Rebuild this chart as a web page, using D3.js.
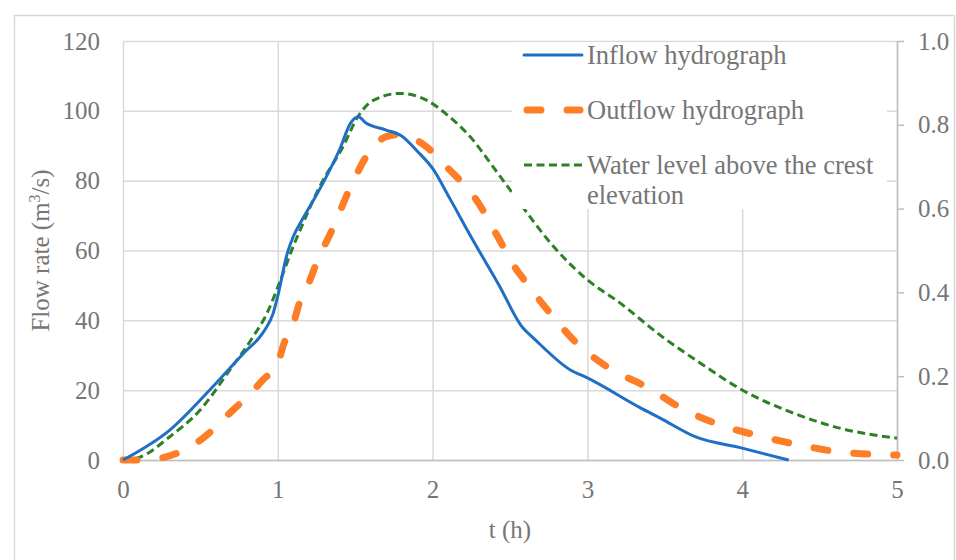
<!DOCTYPE html>
<html>
<head>
<meta charset="utf-8">
<script src="https://cdn.jsdelivr.net/npm/d3@7"></script>
<style>
  body { margin: 0; background: #fff; }
  text { font-family: "Liberation Serif", "Times New Roman", serif; fill: #767676; }
</style>
</head>
<body>
<div class="chart"></div>
<script>
// DATA (t in hours)
const INFLOW_T = [0, 0.3, 0.58, 0.8, 0.88, 0.92, 0.97, 1.0, 1.06, 1.1, 1.16, 1.27, 1.4, 1.47, 1.52, 1.57, 1.7, 1.8, 1.9, 2.0, 2.11, 2.26, 2.43, 2.58, 2.65, 2.89, 3.0, 3.34, 3.47, 3.7, 4.0, 4.3];
const INFLOW_Q = [0, 8.5, 21, 31.5, 35, 37.5, 42, 47, 59, 64, 69, 77.5, 89, 96.5, 98.3, 96.5, 94.5, 92.8, 88.5, 83.5, 75, 63, 50, 38, 35, 25.8, 23.5, 15, 12, 6.6, 3.4, 0];

const OUTFLOW_T = [0, 0.13, 0.27, 0.4, 0.5, 0.71, 0.8, 0.905, 1.0, 1.04, 1.1, 1.14, 1.19, 1.25, 1.36, 1.47, 1.6, 1.7, 1.78, 1.85, 1.96, 2.09, 2.29, 2.42, 2.52, 2.61, 2.76, 2.93, 3.13, 3.4, 3.6, 3.86, 4.11, 4.37, 4.63, 5.0];
const OUTFLOW_Q = [0, 0, 0.8, 3, 5.7, 14.3, 18, 23, 27.7, 33.4, 39, 45, 49.6, 56.4, 66.8, 78.2, 88.8, 92.6, 93.2, 92.6, 89.7, 84, 74, 64, 56, 50.5, 42, 33.5, 26.6, 20.5, 15, 10, 6.9, 4.3, 2.3, 1.4];

const LEVEL_T = [0, 0.11, 0.3, 0.5, 0.69, 0.84, 0.93, 1.01, 1.1, 1.14, 1.27, 1.42, 1.52, 1.62, 1.79, 1.96, 2.09, 2.26, 2.39, 2.51, 2.58, 2.78, 3.0, 3.21, 3.47, 3.73, 4.0, 4.33, 4.63, 5.0];
const LEVEL_H = [0, 0.007, 0.055, 0.12, 0.215, 0.294, 0.35, 0.422, 0.51, 0.545, 0.652, 0.747, 0.821, 0.859, 0.875, 0.859, 0.825, 0.764, 0.70, 0.64, 0.605, 0.51, 0.43, 0.375, 0.298, 0.231, 0.167, 0.112, 0.076, 0.052];

const X_TICKS = [0, 1, 2, 3, 4, 5];
const Y_TICKS = [0, 20, 40, 60, 80, 100, 120];
const Y2_TICKS = [0, 0.2, 0.4, 0.6, 0.8, 1.0];

const LEGEND_LABELS = ["Inflow hydrograph", "Outflow hydrograph", "Water level above the crest", "elevation"];

// GLOBAL CONSTANTS
const FRAME_WIDTH = 956;
const FRAME_HEIGHT = 560;
const MARGINS = {left: 123, right: 59, top: 41, bottom: 100};
const GRAPH_WIDTH = FRAME_WIDTH - MARGINS.left - MARGINS.right;
const GRAPH_HEIGHT = FRAME_HEIGHT - MARGINS.top - MARGINS.bottom;

const GRID_COLOR = "#d9d9d9";
const AXIS_COLOR = "#bfbfbf";

const FRAME = d3.select(".chart")
  .append("svg")
    .attr("width", FRAME_WIDTH)
    .attr("height", FRAME_HEIGHT);

// outer chart border
FRAME.append("rect")
  .attr("x", 14.5)
  .attr("y", 15.5)
  .attr("width", 940)
  .attr("height", 600)
  .attr("fill", "none")
  .attr("stroke", GRID_COLOR)
  .attr("stroke-width", 1.5);

// scales
const X_SCALE = d3.scaleLinear().domain([0, 5]).range([0, GRAPH_WIDTH]);
const Y_SCALE = d3.scaleLinear().domain([0, 120]).range([GRAPH_HEIGHT, 0]);
const Y2_SCALE = d3.scaleLinear().domain([0, 1]).range([GRAPH_HEIGHT, 0]);

const G = FRAME.append("g")
  .attr("transform", "translate(" + MARGINS.left + "," + MARGINS.top + ")");

// horizontal gridlines
G.append("g")
  .call(d3.axisLeft(Y_SCALE).tickValues(Y_TICKS).tickSize(-GRAPH_WIDTH).tickFormat(""))
  .call(g => g.select(".domain").remove())
  .selectAll("line")
    .attr("stroke", GRID_COLOR)
    .attr("stroke-width", 1.5);

// vertical gridlines
G.append("g")
  .attr("transform", "translate(0," + GRAPH_HEIGHT + ")")
  .call(d3.axisBottom(X_SCALE).tickValues(X_TICKS).tickSize(-GRAPH_HEIGHT).tickFormat(""))
  .call(g => g.select(".domain").remove())
  .selectAll("line")
    .attr("stroke", GRID_COLOR)
    .attr("stroke-width", 1.5);

// left axis labels
G.append("g")
  .call(d3.axisLeft(Y_SCALE).tickValues(Y_TICKS).tickSize(0).tickPadding(23))
  .call(g => g.select(".domain").remove())
  .selectAll("text")
    .attr("font-size", "25px")
    .attr("font-family", "Liberation Serif")
    .attr("fill", "#767676");

// bottom axis
G.append("g")
  .attr("transform", "translate(0," + GRAPH_HEIGHT + ")")
  .call(d3.axisBottom(X_SCALE).tickValues(X_TICKS).tickSize(0).tickPadding(20).tickFormat(d3.format("d")))
  .call(g => g.select(".domain").attr("stroke", AXIS_COLOR).attr("stroke-width", 1.5))
  .selectAll("text")
    .attr("font-size", "25px")
    .attr("font-family", "Liberation Serif")
    .attr("fill", "#767676");

// right axis
G.append("g")
  .attr("transform", "translate(" + GRAPH_WIDTH + ",0)")
  .call(d3.axisRight(Y2_SCALE).tickValues(Y2_TICKS).tickSize(7).tickSizeOuter(0).tickPadding(14).tickFormat(d3.format(".1f")))
  .call(g => g.select(".domain").attr("stroke", AXIS_COLOR).attr("stroke-width", 1.5))
  .call(g => g.selectAll("line").attr("stroke", AXIS_COLOR).attr("stroke-width", 1.5))
  .selectAll("text")
    .attr("font-size", "25px")
    .attr("font-family", "Liberation Serif")
    .attr("fill", "#767676");

// axis titles
const Y_TITLE = FRAME.append("text")
  .attr("transform", "translate(49," + (MARGINS.top + GRAPH_HEIGHT / 2) + ") rotate(-90)")
  .attr("text-anchor", "middle")
  .attr("font-size", "25px");
Y_TITLE.append("tspan").text("Flow rate (m");
Y_TITLE.append("tspan").attr("font-size", "16px").attr("dy", "-9").text("3");
Y_TITLE.append("tspan").attr("dy", "9").text("/s)");

FRAME.append("text")
  .attr("x", MARGINS.left + GRAPH_WIDTH / 2)
  .attr("y", 538)
  .attr("text-anchor", "middle")
  .attr("font-size", "25px")
  .text("t (h)");

// line generators
const FLOW_LINE = d3.line()
  .x(d => X_SCALE(d[0]))
  .y(d => Y_SCALE(d[1]))
  .curve(d3.curveMonotoneX);

const LEVEL_LINE = d3.line()
  .x(d => X_SCALE(d[0]))
  .y(d => Y2_SCALE(d[1]))
  .curve(d3.curveMonotoneX);

const INFLOW = INFLOW_T.map((t, i) => [t, INFLOW_Q[i]]);
const OUTFLOW = OUTFLOW_T.map((t, i) => [t, OUTFLOW_Q[i]]);
const LEVEL = LEVEL_T.map((t, i) => [t, LEVEL_H[i]]);

const STYLES = [
  {color: "#1f6fc6", width: 3, dash: null, cap: "round"},
  {color: "#fd7e27", width: 7, dash: "14 26", cap: "round"},
  {color: "#2e8027", width: 3, dash: "8 4.5", cap: "butt"}
];

G.append("path")
  .datum(LEVEL)
  .attr("d", LEVEL_LINE)
  .attr("fill", "none")
  .attr("stroke", STYLES[2].color)
  .attr("stroke-width", STYLES[2].width)
  .attr("stroke-dasharray", STYLES[2].dash);

G.append("path")
  .datum(OUTFLOW)
  .attr("d", FLOW_LINE)
  .attr("fill", "none")
  .attr("stroke", STYLES[1].color)
  .attr("stroke-width", STYLES[1].width)
  .attr("stroke-linecap", "round")
  .attr("stroke-dasharray", STYLES[1].dash);

G.append("path")
  .datum(INFLOW)
  .attr("d", FLOW_LINE)
  .attr("fill", "none")
  .attr("stroke", STYLES[0].color)
  .attr("stroke-width", STYLES[0].width)
  .attr("stroke-linejoin", "round");

// LEGEND
const LEGEND = FRAME.append("g");

LEGEND.append("rect")
  .attr("x", 512)
  .attr("y", 42)
  .attr("width", 375)
  .attr("height", 167)
  .attr("fill", "#fff");

const LEGEND_Y = [55, 110, 165];

LEGEND_Y.forEach((y, i) => {
  LEGEND.append("line")
    .attr("x1", i == 1 ? 527 : 524)
    .attr("x2", i == 1 ? 580 : 582)
    .attr("y1", y)
    .attr("y2", y)
    .attr("stroke", STYLES[i].color)
    .attr("stroke-width", STYLES[i].width)
    .attr("stroke-linecap", STYLES[i].cap)
    .attr("stroke-dasharray", i == 1 ? "14 26" : (i == 2 ? "8 4.5" : null));

  LEGEND.append("text")
    .attr("x", 587)
    .attr("y", y)
    .attr("dy", "0.35em")
    .attr("font-size", "26.5px")
    .text(LEGEND_LABELS[i]);
});

LEGEND.append("text")
  .attr("x", 587)
  .attr("y", 195)
  .attr("dy", "0.35em")
  .attr("font-size", "26.5px")
  .text(LEGEND_LABELS[3]);
</script>
</body>
</html>
